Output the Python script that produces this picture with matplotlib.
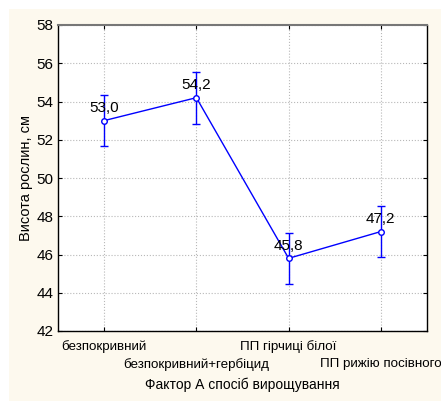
import numpy as np
import matplotlib.pyplot as plt
from matplotlib.patches import Rectangle

# Висота рослин за способом вирощування
categories = ['безпокривний', 'безпокривний+гербіцид', 'ПП гірчиці білої', 'ПП рижію посівного']
heights = [53.0, 54.2, 45.8, 47.2]
errors = [1.35, 1.36, 1.35, 1.35]
y_ticks = [42, 44, 46, 48, 50, 52, 54, 56, 58]

plt.rcParams['font.family'] = ['Liberation Sans Narrow', 'Liberation Sans', 'DejaVu Sans']
plt.rcParams['font.size'] = 10

fig = plt.figure(figsize=(4.41, 4.01), dpi=100)
fig.patch.set_facecolor('white')
# cream panel behind the plot
fig.patches.append(Rectangle((9/441, 0), 1 - 9/441, 1 - 9/401, transform=fig.transFigure,
                             facecolor='#fdf9ee', edgecolor='none', zorder=-1))

ax = fig.add_axes([58/441, 1 - 331/401, 369/441, 306/401])
ax.set_facecolor('white')

x = np.arange(len(categories))
ax.errorbar(x, heights, yerr=errors, color='#0000ff', lw=1, capsize=3, capthick=1,
            marker='o', ms=4, mfc='white', mec='#0000ff', mew=1, zorder=3)
for xi, h in zip(x, heights):
    ax.text(xi, h + 0.3, f'{h:.1f}'.replace('.', ','), ha='center', va='bottom',
            fontsize=11, zorder=4)

ax.set_xlim(-0.5, 3.5)
ax.set_ylim(42, 58)
ax.set_yticks(y_ticks)
ax.set_yticklabels([str(v) for v in y_ticks], fontsize=11)
ax.set_xticks(x)
ax.set_xticklabels(['' for _ in categories])
for i, lab in enumerate(categories):
    ax.text(i, 41.2 if i % 2 == 0 else 40.25, lab, ha='center', va='center', fontsize=9.6)

ax.grid(True, color='#b8b8b8', ls=':', lw=0.8)
ax.set_axisbelow(True)
ax.tick_params(direction='in', length=3, width=0.8, top=True, right=True, pad=3, color='black')
for s in ax.spines.values():
    s.set_color('black')
    s.set_linewidth(1)
ax.spines['top'].set_color('#777777')
ax.spines['top'].set_linewidth(1.5)

ax.set_ylabel('Висота рослин, см', fontsize=10.5, labelpad=3)
fig.text(242/441, 1 - 385/401, 'Фактор А спосіб вирощування', ha='center', va='center', fontsize=10)

fig.savefig('out.png', dpi=100, facecolor=fig.get_facecolor())
